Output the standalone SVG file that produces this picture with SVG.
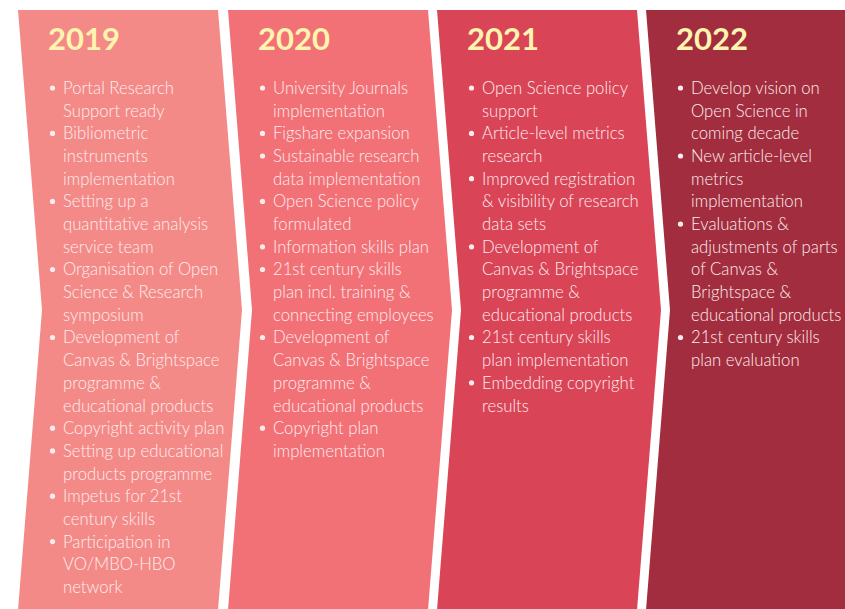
<svg xmlns="http://www.w3.org/2000/svg" width="845" height="609" viewBox="0 0 845 609">
<style>
.yr{font-family:Lato,"Open Sans","Liberation Sans",sans-serif;font-weight:bold;font-size:31px;fill:#FFF4B0}
.tx{font-family:Lato,"Open Sans","Liberation Sans",sans-serif;font-weight:300;font-size:16.7px;fill:#FDEDEE}
.bl{fill:#FDEDEE}
</style>
<rect width="845" height="609" fill="#FFFFFF"/>
<g id="col2019">
<polygon points="18,10 218,10 242,310 218,610 18,610 42,310" fill="#F48A87"/>
<text class="yr" x="48" y="50">2019</text>
<g class="bl">
<circle cx="52.5" cy="88" r="2.6"/><circle cx="52.5" cy="133.4" r="2.6"/><circle cx="52.5" cy="201.4" r="2.6"/><circle cx="52.5" cy="269.5" r="2.6"/><circle cx="52.5" cy="337.5" r="2.6"/><circle cx="52.5" cy="428.2" r="2.6"/><circle cx="52.5" cy="450.9" r="2.6"/><circle cx="52.5" cy="496.2" r="2.6"/><circle cx="52.5" cy="541.6" r="2.6"/>
</g>
<text class="tx" x="63" y="94"><tspan x="63">Portal Research</tspan><tspan x="63" dy="22.68">Support ready</tspan><tspan x="63" dy="22.68">Bibliometric</tspan><tspan x="63" dy="22.68">instruments</tspan><tspan x="63" dy="22.68">implementation</tspan><tspan x="63" dy="22.68">Setting up a</tspan><tspan x="63" dy="22.68">quantitative analysis</tspan><tspan x="63" dy="22.68">service team</tspan><tspan x="63" dy="22.68">Organisation of Open</tspan><tspan x="63" dy="22.68">Science &amp; Research</tspan><tspan x="63" dy="22.68">symposium</tspan><tspan x="63" dy="22.68">Development of</tspan><tspan x="63" dy="22.68">Canvas &amp; Brightspace</tspan><tspan x="63" dy="22.68">programme &amp;</tspan><tspan x="63" dy="22.68">educational products</tspan><tspan x="63" dy="22.68">Copyright activity plan</tspan><tspan x="63" dy="22.68">Setting up educational</tspan><tspan x="63" dy="22.68">products programme</tspan><tspan x="63" dy="22.68">Impetus for 21st</tspan><tspan x="63" dy="22.68">century skills</tspan><tspan x="63" dy="22.68">Participation in</tspan><tspan x="63" dy="22.68">VO/MBO-HBO</tspan><tspan x="63" dy="22.68">network</tspan></text>
</g>
<g id="col2020">
<polygon points="228,10 428,10 452,310 428,610 228,610 252,310" fill="#F27176"/>
<text class="yr" x="258" y="50">2020</text>
<g class="bl">
<circle cx="262.5" cy="88" r="2.6"/><circle cx="262.5" cy="133.4" r="2.6"/><circle cx="262.5" cy="156" r="2.6"/><circle cx="262.5" cy="201.4" r="2.6"/><circle cx="262.5" cy="246.8" r="2.6"/><circle cx="262.5" cy="269.5" r="2.6"/><circle cx="262.5" cy="337.5" r="2.6"/><circle cx="262.5" cy="428.2" r="2.6"/>
</g>
<text class="tx" x="273" y="94"><tspan x="273">University Journals</tspan><tspan x="273" dy="22.68">implementation</tspan><tspan x="273" dy="22.68">Figshare expansion</tspan><tspan x="273" dy="22.68">Sustainable research</tspan><tspan x="273" dy="22.68">data implementation</tspan><tspan x="273" dy="22.68">Open Science policy</tspan><tspan x="273" dy="22.68">formulated</tspan><tspan x="273" dy="22.68">Information skills plan</tspan><tspan x="273" dy="22.68">21st century skills</tspan><tspan x="273" dy="22.68">plan incl. training &amp;</tspan><tspan x="273" dy="22.68">connecting employees</tspan><tspan x="273" dy="22.68">Development of</tspan><tspan x="273" dy="22.68">Canvas &amp; Brightspace</tspan><tspan x="273" dy="22.68">programme &amp;</tspan><tspan x="273" dy="22.68">educational products</tspan><tspan x="273" dy="22.68">Copyright plan</tspan><tspan x="273" dy="22.68">implementation</tspan></text>
</g>
<g id="col2021">
<polygon points="437,10 637,10 661,310 637,610 437,610 461,310" fill="#D94457"/>
<text class="yr" x="467" y="50">2021</text>
<g class="bl">
<circle cx="471.5" cy="88" r="2.6"/><circle cx="471.5" cy="133.4" r="2.6"/><circle cx="471.5" cy="178.7" r="2.6"/><circle cx="471.5" cy="246.8" r="2.6"/><circle cx="471.5" cy="337.5" r="2.6"/><circle cx="471.5" cy="382.8" r="2.6"/>
</g>
<text class="tx" x="482" y="94"><tspan x="482">Open Science policy</tspan><tspan x="482" dy="22.68">support</tspan><tspan x="482" dy="22.68">Article-level metrics</tspan><tspan x="482" dy="22.68">research</tspan><tspan x="482" dy="22.68">Improved registration</tspan><tspan x="482" dy="22.68">&amp; visibility of research</tspan><tspan x="482" dy="22.68">data sets</tspan><tspan x="482" dy="22.68">Development of</tspan><tspan x="482" dy="22.68">Canvas &amp; Brightspace</tspan><tspan x="482" dy="22.68">programme &amp;</tspan><tspan x="482" dy="22.68">educational products</tspan><tspan x="482" dy="22.68">21st century skills</tspan><tspan x="482" dy="22.68">plan implementation</tspan><tspan x="482" dy="22.68">Embedding copyright</tspan><tspan x="482" dy="22.68">results</tspan></text>
</g>
<g id="col2022">
<polygon points="646,10 880,10 880,610 646,610 670,310" fill="#A22D3E"/>
<text class="yr" x="676" y="50">2022</text>
<g class="bl">
<circle cx="680.5" cy="88" r="2.6"/><circle cx="680.5" cy="156" r="2.6"/><circle cx="680.5" cy="224.1" r="2.6"/><circle cx="680.5" cy="337.5" r="2.6"/>
</g>
<text class="tx" x="691" y="94"><tspan x="691">Develop vision on</tspan><tspan x="691" dy="22.68">Open Science in</tspan><tspan x="691" dy="22.68">coming decade</tspan><tspan x="691" dy="22.68">New article-level</tspan><tspan x="691" dy="22.68">metrics</tspan><tspan x="691" dy="22.68">implementation</tspan><tspan x="691" dy="22.68">Evaluations &amp;</tspan><tspan x="691" dy="22.68">adjustments of parts</tspan><tspan x="691" dy="22.68">of Canvas &amp;</tspan><tspan x="691" dy="22.68">Brightspace &amp;</tspan><tspan x="691" dy="22.68">educational products</tspan><tspan x="691" dy="22.68">21st century skills</tspan><tspan x="691" dy="22.68">plan evaluation</tspan></text>
</g>
</svg>
